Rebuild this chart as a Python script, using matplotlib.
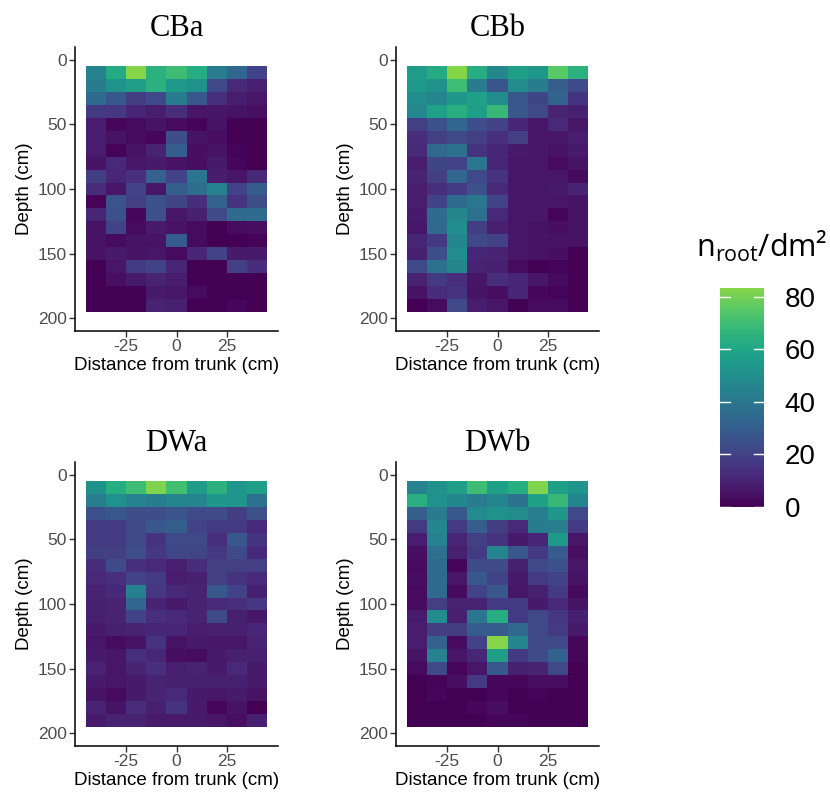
import numpy as np
import matplotlib
matplotlib.use("Agg")
import matplotlib.pyplot as plt
from matplotlib.colors import ListedColormap, Normalize
from matplotlib.colorbar import ColorbarBase

# ---------------- data ----------------
distance_centers = [-40, -30, -20, -10, 0, 10, 20, 30, 40]           # cm
depth_centers = [10, 20, 30, 40, 50, 60, 70, 80, 90, 100,
                 110, 120, 130, 140, 150, 160, 170, 180, 190]      # cm
panel_names = ["CBa", "CBb", "DWa", "DWb"]

CBa = [
    [45, 62, 83, 65, 70, 63, 42, 33, 20],
    [42, 52, 57, 65, 55, 52, 22, 12, 9],
    [35, 28, 18, 22, 42, 28, 14, 8, 6],
    [17, 16, 11, 8, 13, 6, 6, 5, 4],
    [8, 2, 3, 5, 3, 1, 5, 0, 0],
    [8, 5, 3, 2, 24, 5, 4, 0, 0],
    [8, 1, 5, 10, 30, 4, 5, 1, 0],
    [5, 12, 6, 7, 5, 4, 7, 2, 0],
    [19, 11, 14, 31, 20, 40, 8, 6, 12],
    [13, 6, 20, 6, 30, 36, 44, 20, 29],
    [1, 26, 19, 25, 21, 13, 32, 15, 24],
    [11, 25, 2, 25, 6, 9, 23, 35, 35],
    [5, 20, 3, 7, 5, 3, 0, 3, 4],
    [5, 3, 5, 5, 29, 3, 0, 0, 1],
    [5, 7, 5, 6, 3, 11, 20, 7, 7],
    [0, 6, 17, 20, 11, 0, 0, 19, 13],
    [0, 4, 7, 10, 8, 0, 0, 0, 0],
    [0, 0, 0, 7, 6, 3, 0, 0, 0],
    [0, 0, 0, 10, 9, 0, 0, 2, 0],
]

CBb = [
    [56, 62, 83, 63, 47, 57, 54, 75, 65],
    [55, 51, 70, 42, 27, 49, 42, 30, 23],
    [50, 46, 54, 58, 49, 28, 21, 32, 15],
    [47, 58, 64, 57, 68, 28, 22, 10, 9],
    [19, 25, 33, 24, 20, 11, 6, 12, 6],
    [13, 19, 22, 19, 14, 19, 6, 6, 8],
    [12, 34, 37, 15, 11, 7, 6, 5, 7],
    [8, 21, 20, 40, 11, 6, 6, 3, 5],
    [10, 19, 33, 22, 15, 6, 6, 6, 3],
    [8, 14, 17, 25, 12, 6, 6, 7, 10],
    [8, 20, 35, 40, 20, 6, 6, 6, 5],
    [7, 35, 47, 37, 12, 6, 6, 1, 5],
    [6, 34, 50, 18, 9, 6, 5, 4, 5],
    [11, 17, 46, 22, 20, 6, 5, 5, 5],
    [9, 24, 50, 11, 10, 6, 5, 4, 0],
    [22, 38, 47, 10, 9, 3, 0, 1, 0],
    [10, 17, 13, 6, 13, 11, 6, 3, 0],
    [5, 13, 15, 5, 4, 11, 2, 1, 0],
    [0, 3, 22, 8, 6, 0, 3, 3, 0],
]

DWa = [
    [51, 63, 70, 82, 71, 56, 65, 53, 57],
    [43, 51, 45, 42, 46, 46, 54, 53, 38],
    [25, 28, 24, 24, 27, 23, 23, 18, 25],
    [17, 17, 22, 28, 30, 20, 17, 17, 12],
    [17, 17, 22, 15, 22, 22, 14, 28, 15],
    [19, 19, 24, 16, 21, 21, 16, 23, 12],
    [13, 23, 14, 12, 9, 13, 19, 19, 19],
    [12, 14, 20, 17, 8, 9, 19, 15, 12],
    [10, 12, 44, 16, 12, 10, 28, 20, 9],
    [9, 10, 33, 10, 7, 10, 12, 14, 16],
    [9, 10, 20, 14, 12, 10, 23, 9, 6],
    [7, 9, 10, 11, 11, 8, 9, 9, 11],
    [6, 3, 5, 15, 5, 7, 6, 6, 10],
    [7, 6, 14, 11, 4, 3, 7, 9, 9],
    [10, 6, 10, 14, 9, 10, 7, 12, 7],
    [7, 6, 7, 10, 9, 9, 9, 9, 7],
    [5, 3, 7, 10, 12, 7, 6, 7, 5],
    [10, 5, 13, 9, 15, 7, 2, 5, 0],
    [7, 10, 10, 7, 7, 7, 6, 4, 9],
]

DWb = [
    [45, 51, 57, 70, 57, 63, 82, 57, 53],
    [64, 51, 47, 42, 46, 38, 58, 68, 46],
    [30, 42, 28, 48, 51, 49, 43, 54, 22],
    [17, 47, 17, 30, 18, 12, 42, 43, 17],
    [8, 45, 11, 19, 15, 7, 11, 55, 6],
    [4, 38, 9, 17, 46, 28, 16, 29, 4],
    [3, 35, 1, 23, 23, 9, 22, 25, 6],
    [4, 35, 6, 28, 20, 7, 17, 20, 5],
    [3, 35, 3, 20, 28, 6, 9, 17, 3],
    [3, 19, 10, 10, 17, 17, 7, 12, 5],
    [7, 50, 9, 40, 63, 17, 22, 16, 9],
    [8, 18, 18, 29, 29, 34, 22, 17, 7],
    [8, 32, 3, 20, 83, 47, 22, 22, 2],
    [5, 45, 6, 11, 57, 17, 23, 32, 2],
    [3, 22, 2, 6, 28, 9, 10, 22, 0],
    [0, 1, 4, 17, 2, 2, 4, 4, 0],
    [0, 2, 0, 0, 2, 0, 1, 0, 0],
    [0, 0, 0, 2, 4, 0, 0, 0, 0],
    [0, 0, 0, 0, 2, 2, 0, 0, 0],
]

panel_data = [CBa, CBb, DWa, DWb]
x_ticks = [-25, 0, 25]
x_ticklabels = ["-25", "0", "25"]
y_ticks = [0, 50, 100, 150, 200]
cbar_ticks = [0, 20, 40, 60, 80]
value_max = 83.4

# ---------------- style ----------------
W, H = 830, 801
fig = plt.figure(figsize=(W / 100, H / 100), dpi=100)
cmap = ListedColormap(plt.cm.viridis(np.linspace(0, 0.82, 256)))
norm = Normalize(vmin=0, vmax=value_max)

sans = ["Liberation Sans", "DejaVu Sans"]
serif = ["Liberation Serif", "DejaVu Serif"]

def px_axes(left, top, right, bottom):
    return [left / W, 1 - bottom / H, (right - left) / W, (bottom - top) / H]

positions = [
    (75, 47, 278, 331),
    (396, 47, 599, 331),
    (75, 462, 278, 746),
    (396, 462, 599, 746),
]

dx = distance_centers[1] - distance_centers[0]
dy = depth_centers[1] - depth_centers[0]
x_edges = np.append(np.array(distance_centers) - dx / 2, distance_centers[-1] + dx / 2)
y_edges = np.append(np.array(depth_centers) - dy / 2, depth_centers[-1] + dy / 2)

for name, data, pos in zip(panel_names, panel_data, positions):
    ax = fig.add_axes(px_axes(*pos))
    ax.pcolormesh(x_edges, y_edges, np.array(data), cmap=cmap, norm=norm,
                  shading="flat", edgecolor="none")
    ax.set_xlim(-50.5, 50.5)
    ax.set_ylim(210, -10)
    ax.set_xticks(x_ticks)
    ax.set_xticklabels(x_ticklabels)
    ax.set_yticks(y_ticks)
    for s in ["top", "right"]:
        ax.spines[s].set_visible(False)
    for s in ["left", "bottom"]:
        ax.spines[s].set_linewidth(1.1)
        ax.spines[s].set_color("black")
    ax.tick_params(length=4, width=1.0, color="#333333", labelsize=12.5,
                   labelcolor="#4D4D4D", pad=2)
    for lab in ax.get_xticklabels() + ax.get_yticklabels():
        lab.set_fontfamily(sans)
    ax.set_xlabel("Distance from trunk (cm)", fontsize=13.5, family=sans,
                  labelpad=2)
    ax.set_ylabel("Depth (cm)", fontsize=13.5, family=sans, labelpad=3)
    ax.set_title(name, fontsize=22, family=serif, pad=8)

# colorbar
cax = fig.add_axes(px_axes(720, 288, 764, 507))
cb = ColorbarBase(cax, cmap=cmap, norm=norm, orientation="vertical",
                  ticks=cbar_ticks)
cb.outline.set_visible(False)
cax.tick_params(length=0, labelsize=20, pad=15)
for lab in cax.get_yticklabels():
    lab.set_fontfamily(sans)
for t in cbar_ticks:
    cax.plot([0, 0.22], [t, t], color="white", lw=1.0, transform=cax.get_yaxis_transform())
    cax.plot([0.78, 1.0], [t, t], color="white", lw=1.0, transform=cax.get_yaxis_transform())
fig.text(762 / W, 1 - 246 / H, r"n$_{\mathregular{root}}$/dm²", fontsize=22,
         family=["Open Sans", "DejaVu Sans"], ha="center", va="center")

fig.savefig("out.png", dpi=100, facecolor="white")
